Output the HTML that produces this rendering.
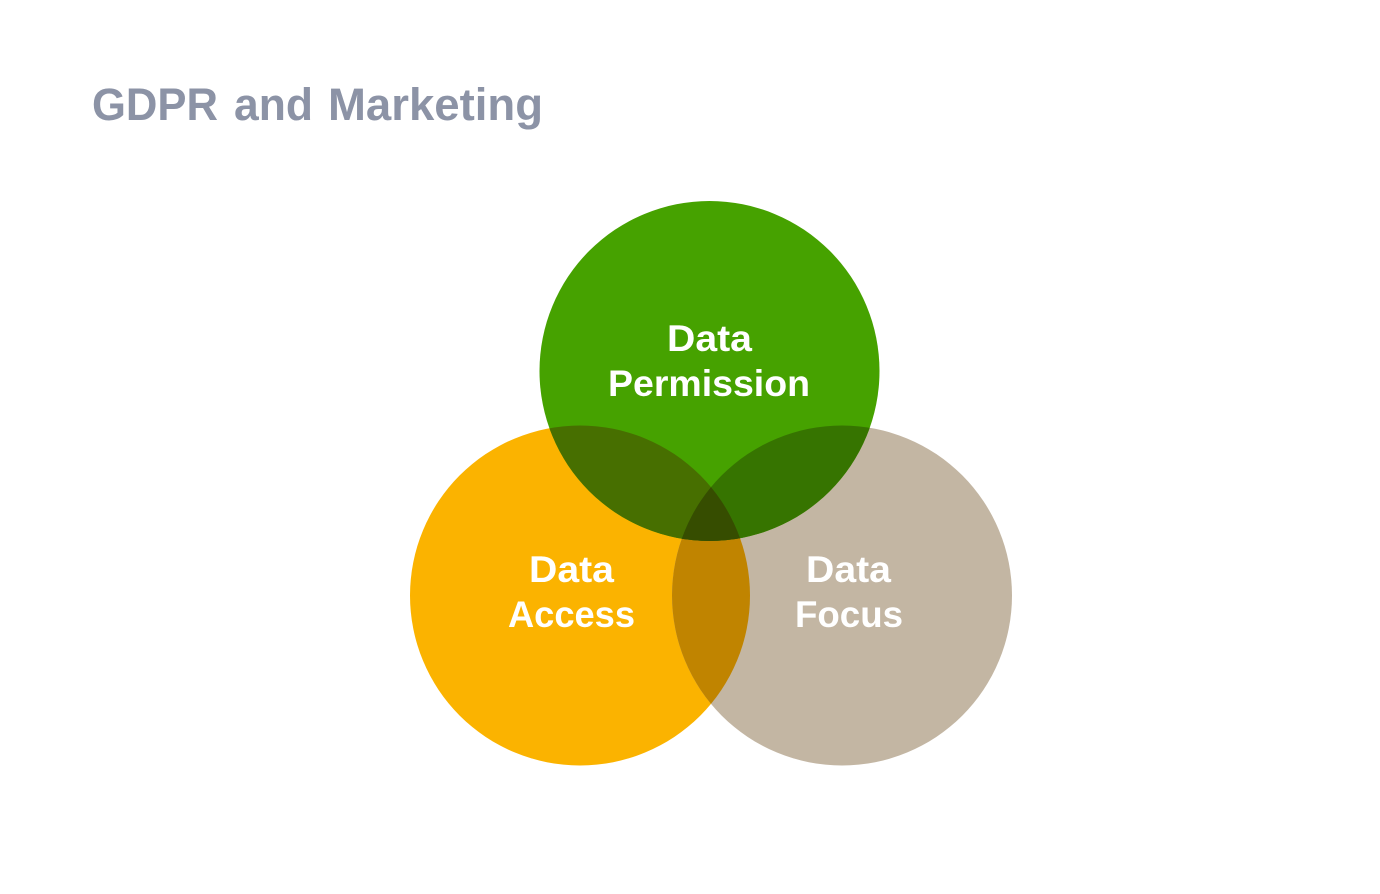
<!DOCTYPE html>
<html>
<head>
<meta charset="utf-8">
<style>
html,body{margin:0;padding:0;background:#fff;width:1380px;height:894px;overflow:hidden}
svg{display:block}
text{font-family:"Liberation Sans",sans-serif;font-weight:700}
</style>
</head>
<body>
<svg width="1380" height="894" viewBox="0 0 1380 894" xmlns="http://www.w3.org/2000/svg">
<defs>
<clipPath id="g"><circle cx="709.5" cy="371" r="170"/></clipPath>
<clipPath id="o"><circle cx="580" cy="595.5" r="170"/></clipPath>
<clipPath id="t"><circle cx="842" cy="595.5" r="170"/></clipPath>
</defs>
<rect width="1380" height="894" fill="#fff"/>
<circle cx="580" cy="595.5" r="170" fill="#FBB300"/>
<circle cx="842" cy="595.5" r="170" fill="#C3B6A3"/>
<circle cx="709.5" cy="371" r="170" fill="#46A200"/>
<g clip-path="url(#o)"><circle cx="842" cy="595.5" r="170" fill="#C08400"/></g>
<g clip-path="url(#o)"><circle cx="709.5" cy="371" r="170" fill="#476F00"/></g>
<g clip-path="url(#t)"><circle cx="709.5" cy="371" r="170" fill="#367400"/></g>
<g clip-path="url(#o)"><g clip-path="url(#t)"><circle cx="709.5" cy="371" r="170" fill="#364D00"/></g></g>
<g font-size="45" fill="#8C93A6">
<text x="92" y="120" textLength="126" lengthAdjust="spacingAndGlyphs">GDPR</text>
<text x="234" y="120" textLength="79" lengthAdjust="spacingAndGlyphs">and</text>
<text x="328" y="120" textLength="215" lengthAdjust="spacingAndGlyphs">Marketing</text>
</g>
<g fill="#fff" font-size="37">
<text x="667" y="351" textLength="85" lengthAdjust="spacingAndGlyphs">Data</text>
<text x="608" y="396" textLength="202" lengthAdjust="spacingAndGlyphs">Permission</text>
<text x="529" y="582" textLength="85" lengthAdjust="spacingAndGlyphs">Data</text>
<text x="508" y="627" textLength="127" lengthAdjust="spacingAndGlyphs">Access</text>
<text x="806" y="582" textLength="85" lengthAdjust="spacingAndGlyphs">Data</text>
<text x="795" y="627" textLength="108" lengthAdjust="spacingAndGlyphs">Focus</text>
</g>
</svg>
</body>
</html>
